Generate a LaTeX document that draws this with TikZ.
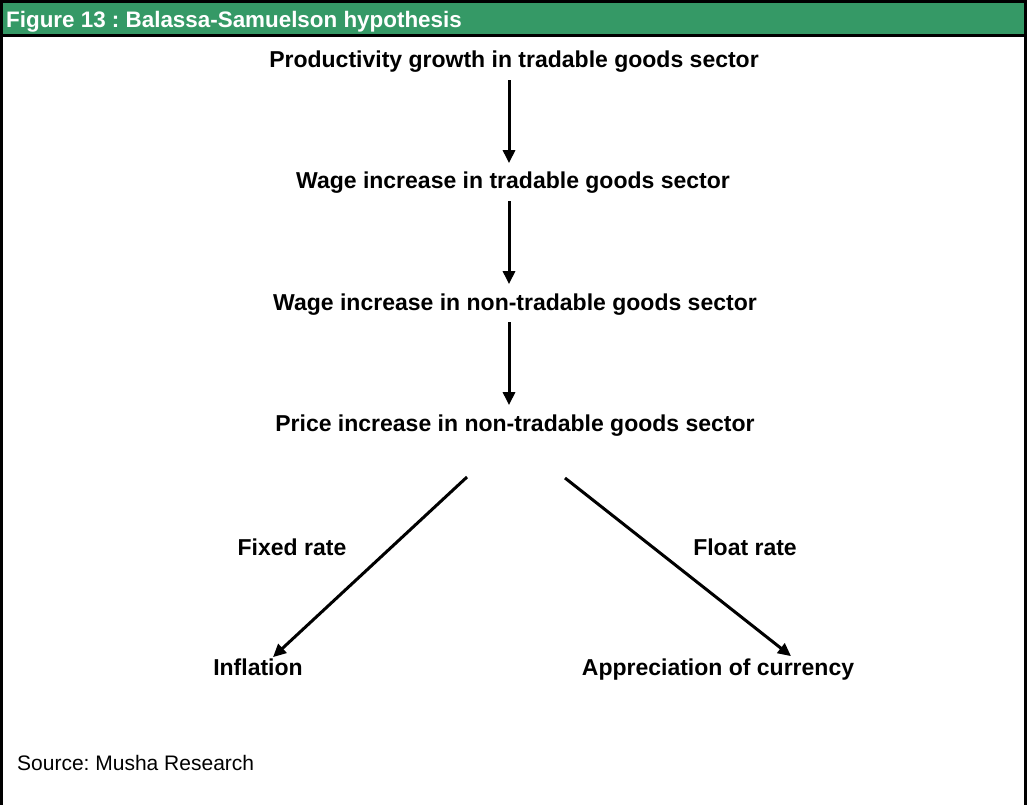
\documentclass[tikz,border=0pt]{standalone}
\usepackage{fontspec}
\setmainfont{Liberation Sans}
\usetikzlibrary{arrows.meta}

\definecolor{headgreen}{RGB}{53,153,102}

\tikzset{
    step text/.style = {font = \fontsize{23}{27}\selectfont\bfseries, inner sep = 0pt, anchor = base},
    flow/.style = {->, line width = 3pt}
}

\begin{document}
\frenchspacing
\begin{tikzpicture}[
                x = 1pt, y = -1pt, % one unit per pixel, y downwards
                > = {Triangle[length = 13pt, width = 12pt]}, % arrow head style
                line join = miter
            ]

            \useasboundingbox (0,0) rectangle (1027,805);

            % header bar and frame
            \fill[headgreen] (0,0) rectangle (1027,36);
            \draw[line width = 3pt] (1.5,805) -- (1.5,1.5) -- (1025.5,1.5) -- (1025.5,805);
            \draw[line width = 3pt] (0,36) -- (1027,36);
            \node[anchor = base west, text = white, inner sep = 0pt,
                font = \fontsize{22.4}{26}\selectfont\bfseries] (title) at (6,28)
            {Figure 13 : Balassa-Samuelson hypothesis};

            % chain of effects
            \node[step text] (prod) at (514,68) {Productivity growth in tradable goods sector};
            \node[step text] (wtrad) at (513,189) {Wage increase in tradable goods sector};
            \node[step text] (wnon) at (515,310) {Wage increase in non-tradable goods sector};
            \node[step text] (price) at (515,431) {Price increase in non-tradable goods sector};

            \node[step text] (fixed) at (292,555) {Fixed rate};
            \node[step text] (float) at (745,555) {Float rate};

            \node[step text] (infl) at (258,675) {Inflation};
            \node[step text] (appr) at (718,675) {Appreciation of currency};

            \node[anchor = base west, inner sep = 0pt,
                font = \fontsize{21}{25}\selectfont] (src) at (17,770) {Source: Musha Research};

            % arrows
            \coordinate (fixstart) at (467,477);
            \coordinate (flostart) at (565,478);

            \draw[flow, shorten <= 7pt, shorten >= 9pt] (prod.south -| 509,0) -- (wtrad.north -| 509,0);
            \draw[flow, shorten <= 7pt, shorten >= 9pt] (wtrad.south -| 509,0) -- (wnon.north -| 509,0);
            \draw[flow, shorten <= 7pt, shorten >= 9pt] (wnon.south -| 509,0) -- (price.north -| 509,0);
            \draw[flow] (fixstart) -- ([xshift = 15pt, yshift = 1pt]infl.north);
            \draw[flow] (flostart) -- ([xshift = 73pt, yshift = 2pt]appr.north);

        \end{tikzpicture}
\end{document}
